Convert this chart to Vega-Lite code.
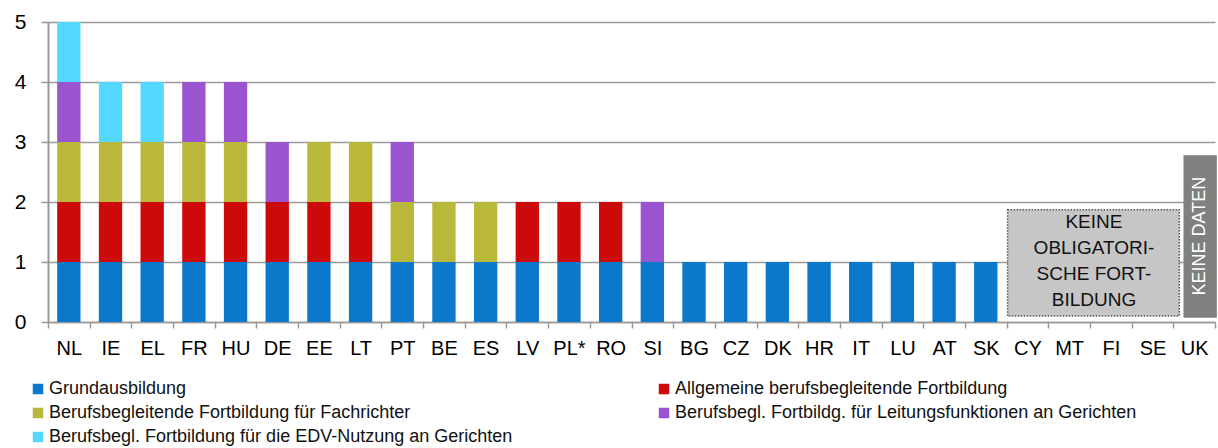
{
  "$schema": "https://vega.github.io/schema/vega-lite/v6.json",
  "width": 1167,
  "height": 300,
  "autosize": {"type": "none"},
  "padding": {"left": 48, "top": 22, "right": 3, "bottom": 126},
  "background": "white",
  "config": {"view": {"stroke": null}, "font": "Liberation Sans"},
  "datasets": {
    "stufen": [
      {"land": "NL", "art": "Grundausbildung", "wert": 1},
      {"land": "NL", "art": "Allgemeine berufsbegleitende Fortbildung", "wert": 1},
      {"land": "NL", "art": "Berufsbegleitende Fortbildung für Fachrichter", "wert": 1},
      {"land": "NL", "art": "Berufsbegl. Fortbildg. für Leitungsfunktionen an Gerichten", "wert": 1},
      {"land": "NL", "art": "Berufsbegl. Fortbildung für die EDV-Nutzung an Gerichten", "wert": 1},
      {"land": "IE", "art": "Grundausbildung", "wert": 1},
      {"land": "IE", "art": "Allgemeine berufsbegleitende Fortbildung", "wert": 1},
      {"land": "IE", "art": "Berufsbegleitende Fortbildung für Fachrichter", "wert": 1},
      {"land": "IE", "art": "Berufsbegl. Fortbildung für die EDV-Nutzung an Gerichten", "wert": 1},
      {"land": "EL", "art": "Grundausbildung", "wert": 1},
      {"land": "EL", "art": "Allgemeine berufsbegleitende Fortbildung", "wert": 1},
      {"land": "EL", "art": "Berufsbegleitende Fortbildung für Fachrichter", "wert": 1},
      {"land": "EL", "art": "Berufsbegl. Fortbildung für die EDV-Nutzung an Gerichten", "wert": 1},
      {"land": "FR", "art": "Grundausbildung", "wert": 1},
      {"land": "FR", "art": "Allgemeine berufsbegleitende Fortbildung", "wert": 1},
      {"land": "FR", "art": "Berufsbegleitende Fortbildung für Fachrichter", "wert": 1},
      {"land": "FR", "art": "Berufsbegl. Fortbildg. für Leitungsfunktionen an Gerichten", "wert": 1},
      {"land": "HU", "art": "Grundausbildung", "wert": 1},
      {"land": "HU", "art": "Allgemeine berufsbegleitende Fortbildung", "wert": 1},
      {"land": "HU", "art": "Berufsbegleitende Fortbildung für Fachrichter", "wert": 1},
      {"land": "HU", "art": "Berufsbegl. Fortbildg. für Leitungsfunktionen an Gerichten", "wert": 1},
      {"land": "DE", "art": "Grundausbildung", "wert": 1},
      {"land": "DE", "art": "Allgemeine berufsbegleitende Fortbildung", "wert": 1},
      {"land": "DE", "art": "Berufsbegl. Fortbildg. für Leitungsfunktionen an Gerichten", "wert": 1},
      {"land": "EE", "art": "Grundausbildung", "wert": 1},
      {"land": "EE", "art": "Allgemeine berufsbegleitende Fortbildung", "wert": 1},
      {"land": "EE", "art": "Berufsbegleitende Fortbildung für Fachrichter", "wert": 1},
      {"land": "LT", "art": "Grundausbildung", "wert": 1},
      {"land": "LT", "art": "Allgemeine berufsbegleitende Fortbildung", "wert": 1},
      {"land": "LT", "art": "Berufsbegleitende Fortbildung für Fachrichter", "wert": 1},
      {"land": "PT", "art": "Grundausbildung", "wert": 1},
      {"land": "PT", "art": "Berufsbegleitende Fortbildung für Fachrichter", "wert": 1},
      {"land": "PT", "art": "Berufsbegl. Fortbildg. für Leitungsfunktionen an Gerichten", "wert": 1},
      {"land": "BE", "art": "Grundausbildung", "wert": 1},
      {"land": "BE", "art": "Berufsbegleitende Fortbildung für Fachrichter", "wert": 1},
      {"land": "ES", "art": "Grundausbildung", "wert": 1},
      {"land": "ES", "art": "Berufsbegleitende Fortbildung für Fachrichter", "wert": 1},
      {"land": "LV", "art": "Grundausbildung", "wert": 1},
      {"land": "LV", "art": "Allgemeine berufsbegleitende Fortbildung", "wert": 1},
      {"land": "PL*", "art": "Grundausbildung", "wert": 1},
      {"land": "PL*", "art": "Allgemeine berufsbegleitende Fortbildung", "wert": 1},
      {"land": "RO", "art": "Grundausbildung", "wert": 1},
      {"land": "RO", "art": "Allgemeine berufsbegleitende Fortbildung", "wert": 1},
      {"land": "SI", "art": "Grundausbildung", "wert": 1},
      {"land": "SI", "art": "Berufsbegl. Fortbildg. für Leitungsfunktionen an Gerichten", "wert": 1},
      {"land": "BG", "art": "Grundausbildung", "wert": 1},
      {"land": "CZ", "art": "Grundausbildung", "wert": 1},
      {"land": "DK", "art": "Grundausbildung", "wert": 1},
      {"land": "HR", "art": "Grundausbildung", "wert": 1},
      {"land": "IT", "art": "Grundausbildung", "wert": 1},
      {"land": "LU", "art": "Grundausbildung", "wert": 1},
      {"land": "AT", "art": "Grundausbildung", "wert": 1},
      {"land": "SK", "art": "Grundausbildung", "wert": 1}
    ],
    "ohnePflicht": [
      {"von": "CY", "bis": "SE", "mitte": "MT", "unten": 0.1, "oben": 1.87, "y": 1.02,
       "text": ["KEINE", "OBLIGATORI-", "SCHE FORT-", "BILDUNG"]}
    ],
    "ohneDaten": [
      {"land": "UK", "unten": 0.07, "oben": 2.78, "y": 1.43, "text": "KEINE DATEN"}
    ]
  },
  "layer": [
    {
      "data": {"name": "stufen"},
      "transform": [
        {"calculate": "indexof(['Grundausbildung','Allgemeine berufsbegleitende Fortbildung','Berufsbegleitende Fortbildung für Fachrichter','Berufsbegl. Fortbildg. für Leitungsfunktionen an Gerichten','Berufsbegl. Fortbildung für die EDV-Nutzung an Gerichten'], datum.art)", "as": "rang"}
      ],
      "mark": {"type": "bar", "width": {"band": 0.56}},
      "encoding": {
        "x": {
          "field": "land", "type": "nominal", "title": null,
          "scale": {
            "domain": ["NL","IE","EL","FR","HU","DE","EE","LT","PT","BE","ES","LV","PL*","RO","SI","BG","CZ","DK","HR","IT","LU","AT","SK","CY","MT","FI","SE","UK"],
            "paddingInner": 0, "paddingOuter": 0
          },
          "axis": {
            "labelAngle": 0, "labelFontSize": 20, "labelColor": "#000", "labelPadding": 10,
            "tickBand": "extent", "tickSize": 6, "tickColor": "#9a9a9a", "tickWidth": 1.5,
            "domainColor": "#9a9a9a", "domainWidth": 1.5, "grid": false
          }
        },
        "y": {
          "aggregate": "sum", "field": "wert", "type": "quantitative", "title": null, "stack": "zero",
          "scale": {"domain": [0, 5], "nice": false},
          "axis": {
            "values": [0, 1, 2, 3, 4, 5], "format": "d", "grid": true, "gridColor": "#9a9a9a", "gridWidth": 1.5,
            "domainColor": "#9a9a9a", "domainWidth": 2, "tickColor": "#9a9a9a", "tickWidth": 1.5,
            "tickSize": 7, "labelFontSize": 21, "labelColor": "#000", "labelPadding": 15
          }
        },
        "color": {
          "field": "art", "type": "nominal", "title": null,
          "scale": {
            "domain": ["Grundausbildung","Allgemeine berufsbegleitende Fortbildung","Berufsbegleitende Fortbildung für Fachrichter","Berufsbegl. Fortbildg. für Leitungsfunktionen an Gerichten","Berufsbegl. Fortbildung für die EDV-Nutzung an Gerichten"],
            "range": ["#0b78cb", "#cc0a0a", "#b9b83b", "#9a54d0", "#55d8ff"]
          },
          "legend": {
            "orient": "none", "legendX": -19, "legendY": 358, "columns": 2, "direction": "horizontal",
            "symbolType": "square", "symbolSize": 110, "symbolStrokeWidth": 0, "labelFontSize": 18,
            "labelColor": "#111", "labelLimit": 0, "rowPadding": 6, "columnPadding": 142, "labelOffset": 2
          }
        },
        "order": {"field": "rang", "type": "quantitative"}
      }
    },
    {
      "data": {"name": "ohnePflicht"},
      "mark": {"type": "rect", "fill": "#c6c6c6", "stroke": "#555", "strokeWidth": 1.5, "strokeDash": [1.5, 1.5], "xOffset": 1, "x2Offset": 6},
      "encoding": {
        "x": {"field": "von", "type": "nominal", "bandPosition": 0, "title": null},
        "x2": {"field": "bis", "bandPosition": 1},
        "y": {"field": "unten", "type": "quantitative", "title": null},
        "y2": {"field": "oben"}
      }
    },
    {
      "data": {"name": "ohnePflicht"},
      "mark": {"type": "text", "fontSize": 19, "color": "#111", "lineHeight": 26, "baseline": "middle", "align": "center", "dx": 4, "dy": -39},
      "encoding": {
        "x": {"field": "mitte", "type": "nominal", "bandPosition": 1, "title": null},
        "y": {"field": "y", "type": "quantitative", "title": null},
        "text": {"field": "text"}
      }
    },
    {
      "data": {"name": "ohneDaten"},
      "mark": {"type": "bar", "color": "#808080", "width": {"band": 0.8}, "xOffset": 6},
      "encoding": {
        "x": {"field": "land", "type": "nominal", "title": null},
        "y": {"field": "unten", "type": "quantitative", "title": null},
        "y2": {"field": "oben"}
      }
    },
    {
      "data": {"name": "ohneDaten"},
      "mark": {"type": "text", "fontSize": 18, "color": "#fff", "angle": 270, "baseline": "middle", "align": "center", "xOffset": 6},
      "encoding": {
        "x": {"field": "land", "type": "nominal", "title": null},
        "y": {"field": "y", "type": "quantitative", "title": null},
        "text": {"field": "text"}
      }
    }
  ]
}
